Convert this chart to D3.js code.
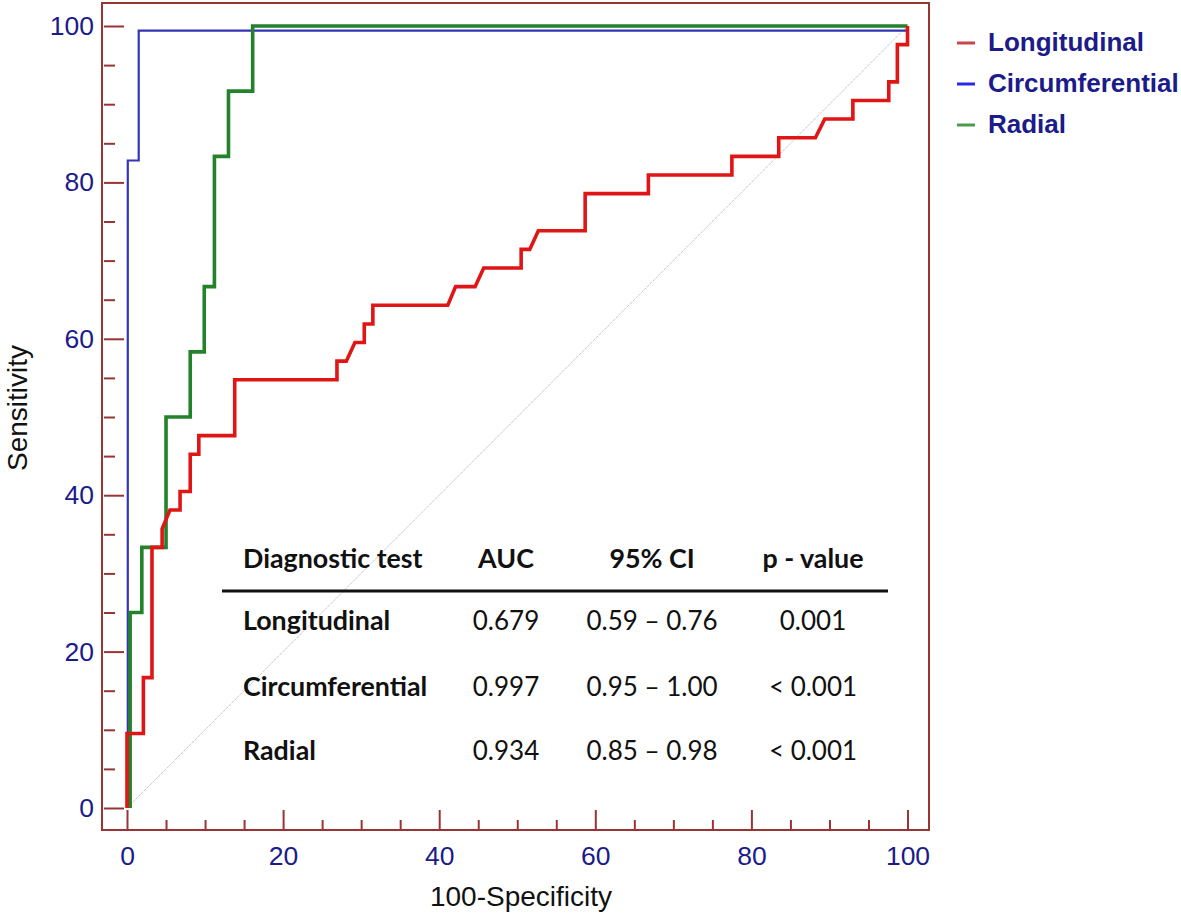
<!DOCTYPE html>
<html>
<head>
<meta charset="utf-8">
<script src="https://cdn.jsdelivr.net/npm/d3@7"></script>
<style>
html,body{margin:0;padding:0;background:#fff;}
svg{display:block;}
</style>
</head>
<body>
<svg id="chart" width="1181" height="914"></svg>
<script>
// ---------- data ----------
const seriesNames = ["Longitudinal", "Circumferential", "Radial"];

// Longitudinal ROC (100-Specificity, Sensitivity)
const longX = [0, 0, 2.1, 2.1, 3.2, 3.2, 4.5, 4.5, 5.5, 6.8, 6.8, 8.1, 8.1, 9.2, 9.2, 13.8, 13.8, 26.9, 26.9, 28.1, 29.2, 30.4, 30.4, 31.5, 31.5, 41.1, 42.1, 44.6, 45.7, 50.5, 50.5, 51.6, 52.7, 58.7, 58.7, 66.8, 66.8, 77.5, 77.5, 83.5, 83.5, 88.2, 89.4, 93.0, 93.0, 97.6, 97.6, 98.7, 98.7, 100, 100];
const longY = [0, 9.52, 9.52, 16.67, 16.67, 33.33, 33.33, 35.71, 38.10, 38.10, 40.48, 40.48, 45.24, 45.24, 47.62, 47.62, 54.76, 54.76, 57.14, 57.14, 59.52, 59.52, 61.90, 61.90, 64.29, 64.29, 66.67, 66.67, 69.05, 69.05, 71.43, 71.43, 73.81, 73.81, 78.57, 78.57, 80.95, 80.95, 83.33, 83.33, 85.71, 85.71, 88.10, 88.10, 90.48, 90.48, 92.86, 92.86, 97.62, 97.62, 100];

// Circumferential ROC
const circX = [0.1, 0.1, 1.5, 1.5, 100, 100];
const circY = [0, 82.8, 82.8, 99.4, 99.4, 100];

// Radial ROC
const radX = [0.4, 0.4, 1.9, 1.9, 5.0, 5.0, 8.1, 8.1, 9.9, 9.9, 11.2, 11.2, 13.0, 13.0, 16.1, 16.1, 100];
const radY = [0, 25.0, 25.0, 33.33, 33.33, 50.0, 50.0, 58.33, 58.33, 66.67, 66.67, 83.33, 83.33, 91.67, 91.67, 100, 100];

const xTicks = [0, 20, 40, 60, 80, 100];
const yTicks = [0, 20, 40, 60, 80, 100];
const minorTicks = [5, 10, 15, 25, 30, 35, 45, 50, 55, 65, 70, 75, 85, 90, 95];

const tableHeader = ["Diagnostic test", "AUC", "95% CI", "p - value"];
const tableTests = ["Longitudinal", "Circumferential", "Radial"];
const tableAUC = ["0.679", "0.997", "0.934"];
const tableCI = ["0.59 \u2013 0.76", "0.95 \u2013 1.00", "0.85 \u2013 0.98"];
const tableP = ["0.001", "< 0.001", "< 0.001"];

// ---------- styles ----------
const frameColor = "#983434";
const labelColor = "#1b1b8a";
const colors = {Longitudinal: "#e01515", Circumferential: "#3434b4", Radial: "#23822a"};
const legendColors = {Longitudinal: "#c9474a", Circumferential: "#2a2ae6", Radial: "#4c9a4c"};
const widths = {Longitudinal: 3.6, Circumferential: 2.2, Radial: 3.6};

const svg = d3.select("#chart");
const frame = {left: 102, top: 3, right: 929, bottom: 830};

const x = d3.scaleLinear().domain([0, 100]).range([127, 907.5]);
const y = d3.scaleLinear().domain([0, 100]).range([808, 26]);

// frame
svg.append("rect")
  .attr("x", frame.left).attr("y", frame.top)
  .attr("width", frame.right - frame.left).attr("height", frame.bottom - frame.top)
  .attr("fill", "none").attr("stroke", frameColor).attr("stroke-width", 2);

// y axis (major)
const yAxisG = svg.append("g").attr("transform", `translate(${frame.left + 2},0)`)
  .call(d3.axisLeft(y).tickValues(yTicks).tickSize(-20).tickPadding(10).tickFormat(d3.format("d")));
const yMinorG = svg.append("g").attr("transform", `translate(${frame.left + 2},0)`)
  .call(d3.axisLeft(y).tickValues(minorTicks).tickSize(-11).tickFormat(""));

// x axis
const xAxisG = svg.append("g").attr("transform", `translate(0,${frame.bottom})`)
  .call(d3.axisBottom(x).tickValues(xTicks).tickSize(-20).tickPadding(16).tickFormat(d3.format("d")));
const xMinorG = svg.append("g").attr("transform", `translate(0,${frame.bottom})`)
  .call(d3.axisBottom(x).tickValues(minorTicks).tickSize(-10).tickFormat(""));

[yAxisG, yMinorG, xAxisG, xMinorG].forEach(g => {
  g.select(".domain").remove();
  g.selectAll(".tick line").attr("stroke", frameColor).attr("stroke-width", 2);
  g.selectAll(".tick text")
    .attr("fill", labelColor)
    .attr("font-family", "'Liberation Sans', Arial, sans-serif")
    .attr("font-size", 26.5);
});

// axis titles
svg.append("text")
  .attr("x", 521).attr("y", 906)
  .attr("text-anchor", "middle")
  .attr("font-family", "'Liberation Sans', Arial, sans-serif")
  .attr("font-size", 28).attr("fill", "#111")
  .text("100-Specificity");
svg.append("text")
  .attr("transform", "translate(27,408) rotate(-90)")
  .attr("text-anchor", "middle")
  .attr("font-family", "'Liberation Sans', Arial, sans-serif")
  .attr("font-size", 28).attr("fill", "#111")
  .text("Sensitivity");

// diagonal reference line
svg.append("line")
  .attr("x1", x(0)).attr("y1", y(0)).attr("x2", x(100)).attr("y2", y(100))
  .attr("stroke", "#c8c8c8").attr("stroke-width", 1).attr("stroke-dasharray", "3,1");

// ROC curves
const line = d3.line().x(d => x(d[0])).y(d => y(d[1]));
const curveData = {
  Circumferential: d3.zip(circX, circY),
  Radial: d3.zip(radX, radY),
  Longitudinal: d3.zip(longX, longY)
};
["Circumferential", "Radial", "Longitudinal"].forEach(name => {
  svg.append("path")
    .datum(curveData[name])
    .attr("d", line)
    .attr("fill", "none")
    .attr("stroke", colors[name])
    .attr("stroke-width", widths[name])
    .attr("stroke-linejoin", "miter");
});

// legend
const legend = svg.append("g");
seriesNames.forEach((name, i) => {
  const ly = 43 + i * 41;
  legend.append("line")
    .attr("x1", 957).attr("x2", 975).attr("y1", ly).attr("y2", ly)
    .attr("stroke", legendColors[name]).attr("stroke-width", 3);
  legend.append("text")
    .attr("x", 988).attr("y", ly + 8)
    .attr("font-family", "'Liberation Sans', Arial, sans-serif")
    .attr("font-weight", "bold").attr("font-size", 26)
    .attr("fill", labelColor)
    .text(name);
});

// table
const tbl = svg.append("g").attr("font-family", "Lato, 'Open Sans', sans-serif").attr("fill", "#111");
const colX = [243, 506, 652, 813];
const anchors = ["start", "middle", "middle", "middle"];
tableHeader.forEach((h, j) => {
  tbl.append("text")
    .attr("x", colX[j]).attr("y", 568)
    .attr("text-anchor", anchors[j])
    .attr("font-weight", "bold").attr("font-size", 26.8)
    .text(h);
});
tbl.append("line")
  .attr("x1", 222).attr("x2", 888).attr("y1", 591).attr("y2", 591)
  .attr("stroke", "#111").attr("stroke-width", 3);
const rowY = [630, 696, 760];
tableTests.forEach((t, i) => {
  const cells = [t, tableAUC[i], tableCI[i], tableP[i]];
  cells.forEach((c, j) => {
    tbl.append("text")
      .attr("x", colX[j]).attr("y", rowY[i])
      .attr("text-anchor", anchors[j])
      .attr("font-weight", j === 0 ? "bold" : "normal")
      .attr("font-size", j === 0 ? 26.8 : 26)
      .text(c);
  });
});
</script>
</body>
</html>
